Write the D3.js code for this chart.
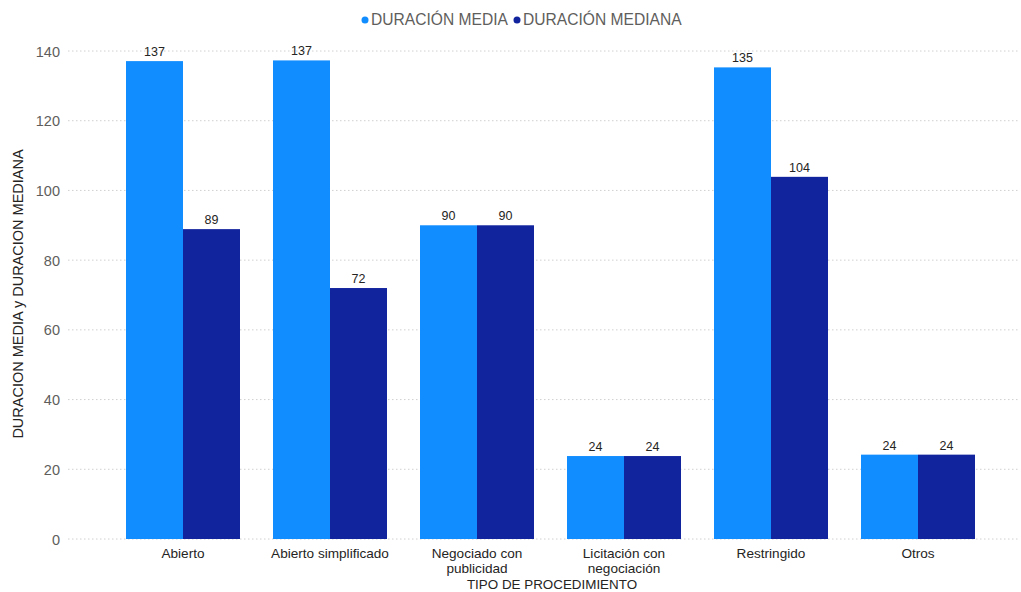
<!DOCTYPE html>
<html><head><meta charset="utf-8">
<script src="https://cdn.jsdelivr.net/npm/d3@7"></script>
<style>body{margin:0;background:#fff;} text{font-family:"Liberation Sans",Arial,sans-serif;}</style>
</head><body>
<svg id="c" width="1021" height="592"></svg>
<script>
const categories = ["Abierto","Abierto simplificado","Negociado con publicidad","Licitación con negociación","Restringido","Otros"];
const categoryLines = [["Abierto"],["Abierto simplificado"],["Negociado con","publicidad"],["Licitación con","negociación"],["Restringido"],["Otros"]];
const seriesNames = ["DURACIÓN MEDIA","DURACIÓN MEDIANA"];
const media = [137.1, 137.3, 90, 23.8, 135.3, 24.2];
const mediana = [88.9, 72, 90, 23.8, 103.9, 24.2];
const yTicks = [0,20,40,60,80,100,120,140];
const colors = ["#118DFF","#12239E"];

const svg = d3.select("#c");
const y = d3.scaleLinear().domain([0,140]).range([539,51]);
const x = d3.scaleBand().domain(categories).range([109.5,991.5]).paddingInner(0.2245).paddingOuter(0.11225);
const xs = d3.scaleBand().domain(seriesNames).range([0,x.bandwidth()]);

// gridlines
svg.append("g").selectAll("line").data(yTicks).join("line")
  .attr("x1",68).attr("x2",1020).attr("y1",d=>y(d)).attr("y2",d=>y(d))
  .attr("stroke","#d0d0d0").attr("stroke-dasharray","1.5,2.5").attr("stroke-width",1);

// y axis
const ya = svg.append("g").attr("transform","translate(60,0)")
  .call(d3.axisLeft(y).tickValues(yTicks).tickSize(0).tickPadding(0));
ya.select(".domain").remove();
ya.selectAll("text").attr("font-size",14.5).attr("fill","#605E5C").attr("text-anchor","end").attr("dy","0.35em").attr("font-family","Liberation Sans, Arial, sans-serif");

// bars
const data = [media, mediana];
const groups = svg.append("g").selectAll("g").data(seriesNames).join("g");
groups.each(function(s, si){
  d3.select(this).selectAll("rect").data(categories).join("rect")
    .attr("x",(c)=>x(c)+xs(s)).attr("width",xs.bandwidth())
    .attr("y",(c,i)=>y(data[si][i])).attr("height",(c,i)=>y(0)-y(data[si][i]))
    .attr("fill",colors[si]);
  d3.select(this).selectAll("text").data(categories).join("text")
    .attr("x",(c)=>x(c)+xs(s)+xs.bandwidth()/2)
    .attr("y",(c,i)=>y(data[si][i])-5)
    .attr("text-anchor","middle").attr("font-size",12.5).attr("fill","#252423")
    .text((c,i)=>Math.round(data[si][i]));
});

// x labels (one text per line)
const xl = svg.append("g");
categories.forEach((c,i)=>{
  categoryLines[i].forEach((ln,j)=>{
    xl.append("text").attr("x",x(c)+x.bandwidth()/2).attr("y",558 + j*15.4)
      .attr("text-anchor","middle").attr("font-size",13.6).attr("fill","#252423").text(ln);
  });
});

// x title
svg.append("text").attr("x",552).attr("y",588.6).attr("text-anchor","middle")
  .attr("font-size",13.4).attr("fill","#252423").text("TIPO DE PROCEDIMIENTO");

// y title
svg.append("text").attr("transform","translate(23,294) rotate(-90)").attr("text-anchor","middle")
  .attr("font-size",14.5).attr("fill","#252423").text("DURACION MEDIA y DURACION MEDIANA");

// legend
const lg = svg.append("g");
const legX = [365, 517];
seriesNames.forEach((s,i)=>{
  lg.append("circle").attr("cx",legX[i]).attr("cy",20).attr("r",3.5).attr("fill",colors[i]);
  lg.append("text").attr("x",legX[i]+6).attr("y",20).attr("dy","0.35em")
    .attr("font-size",15.6).attr("fill","#605E5C").text(s);
});
</script>
</body></html>
